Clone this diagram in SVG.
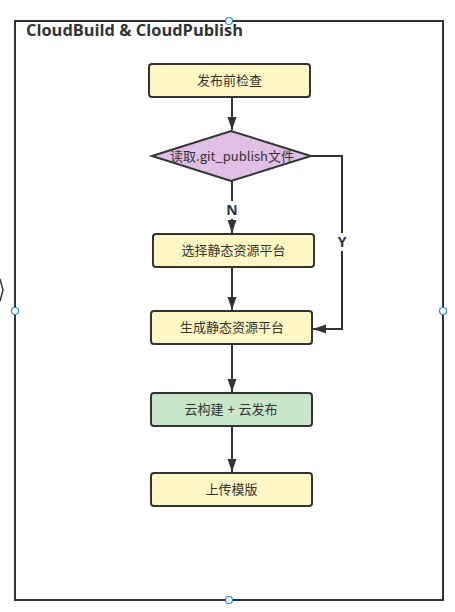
<svg xmlns="http://www.w3.org/2000/svg" width="455" height="612" viewBox="0 0 455 612">
<style>
.box{stroke:#333;stroke-width:2}
.yellow{fill:#fff8c4}
.green{fill:#c8e6c9}
.purple{fill:#e0bee6}
.t{font-family:"Noto Sans CJK SC","Microsoft YaHei",sans-serif;font-size:13px;fill:#333;text-anchor:middle}
.lbl{font-family:"Open Sans","Liberation Sans",sans-serif;font-size:14px;font-weight:bold;fill:#2a3550;text-anchor:middle}
.title{font-family:"Open Sans","Liberation Sans",sans-serif;font-size:16px;font-weight:bold;fill:#333}
.edge{stroke:#333;stroke-width:2;fill:none}
.handle{fill:#fff;stroke:#1e88e5;stroke-width:1.2}
</style>
<defs>
<marker id="arr" markerWidth="13" markerHeight="10" viewBox="0 0 13 10" refX="13" refY="5" orient="auto" markerUnits="userSpaceOnUse">
<path d="M0,0.5 L13,5 L0,9.5 Z" fill="#333"/>
</marker>
</defs>
<rect width="455" height="612" fill="#fff"/>
<g id="container">
<rect x="15" y="21" width="428" height="579" fill="none" stroke="#333" stroke-width="2"/>
<text class="title" x="26" y="36" textLength="217" lengthAdjust="spacingAndGlyphs">CloudBuild &amp; CloudPublish</text>
</g>
<g id="partial">
<polyline points="0,279 3,290 0,301" fill="none" stroke="#333" stroke-width="1.5"/>
</g>
<g id="connectors">
<line class="edge" x1="232" y1="97" x2="232" y2="130" marker-end="url(#arr)"/>
<line class="edge" x1="232" y1="181" x2="232" y2="233" marker-end="url(#arr)"/>
<line class="edge" x1="232" y1="267" x2="232" y2="310" marker-end="url(#arr)"/>
<polyline class="edge" points="311,156 342,156 342,329 313,329" marker-end="url(#arr)"/>
<line class="edge" x1="232" y1="344" x2="232" y2="392" marker-end="url(#arr)"/>
<line class="edge" x1="232" y1="426" x2="232" y2="472" marker-end="url(#arr)"/>
<rect x="225" y="201" width="14" height="18" fill="#fff"/>
<text class="lbl" x="232" y="215">N</text>
<rect x="335" y="233" width="14" height="18" fill="#fff"/>
<text class="lbl" x="342" y="247">Y</text>
</g>
<g id="n1">
<rect class="box yellow" x="149" y="64" width="161" height="33" rx="3"/>
<text class="t" x="229.5" y="85">发布前检查</text>
</g>
<g id="n2">
<polygon class="box purple" points="152,156 231,131 311,156 231,181"/>
<text class="t" x="232" y="161">读取.git_publish文件</text>
</g>
<g id="n3">
<rect class="box yellow" x="153" y="234" width="161" height="33" rx="3"/>
<text class="t" x="233.5" y="255">选择静态资源平台</text>
</g>
<g id="n4">
<rect class="box yellow" x="151" y="311" width="161" height="33" rx="3"/>
<text class="t" x="232" y="332">生成静态资源平台</text>
</g>
<g id="n5">
<rect class="box green" x="151" y="393" width="161" height="33" rx="3"/>
<text class="t" y="414"><tspan x="204">云构建</tspan><tspan x="231"> + </tspan><tspan x="258">云发布</tspan></text>
</g>
<g id="n6">
<rect class="box yellow" x="151" y="473" width="161" height="33" rx="3"/>
<text class="t" x="231.5" y="494">上传模版</text>
</g>
<g id="handles">
<circle class="handle" cx="229" cy="21" r="3.5"/>
<circle class="handle" cx="15" cy="311" r="3.5"/>
<circle class="handle" cx="443" cy="311" r="3.5"/>
<circle class="handle" cx="229" cy="600" r="3.5"/>
</g>
</svg>
